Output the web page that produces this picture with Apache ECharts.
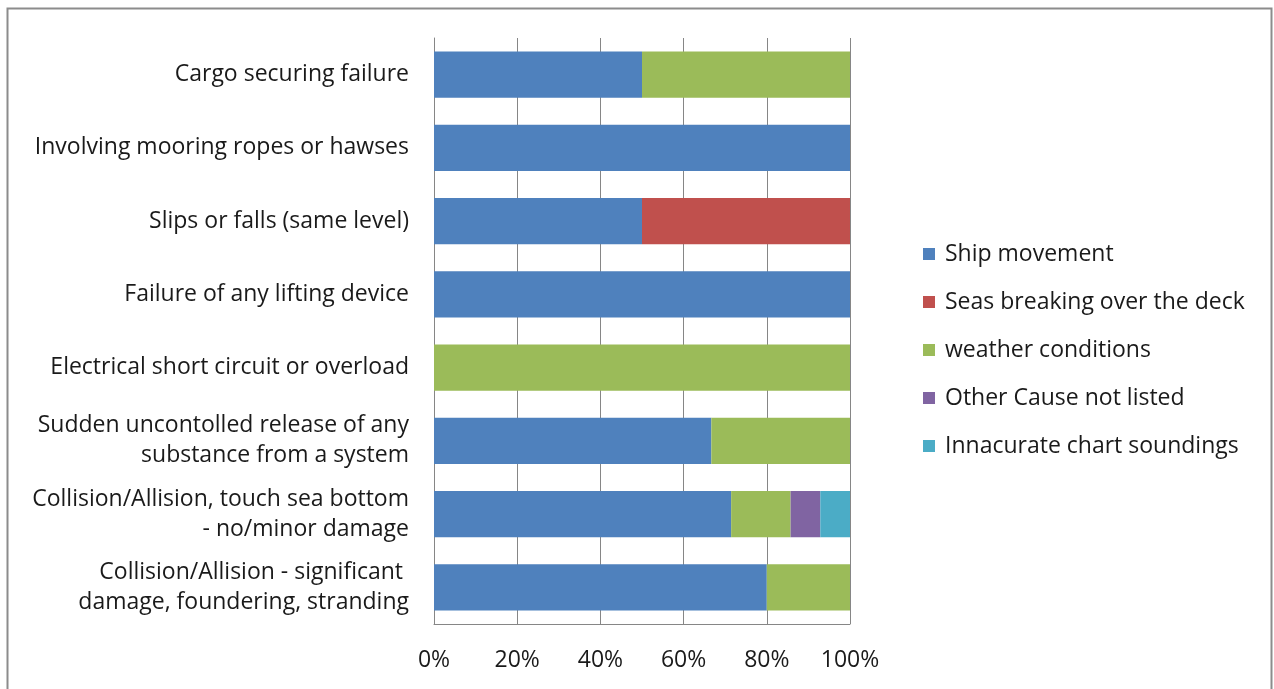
<!DOCTYPE html>
<html><head><meta charset="utf-8">
<script src="https://cdn.jsdelivr.net/npm/echarts@6/dist/echarts.min.js"></script>
<style>html,body{margin:0;padding:0;background:#fff}#c{width:1274px;height:689px}</style>
</head><body><div id="c"></div>
<script>
const categories = [
  "Cargo securing failure",
  "Involving mooring ropes or hawses",
  "Slips or falls (same level)",
  "Failure of any lifting device",
  "Electrical short circuit or overload",
  "Sudden uncontolled release of any\nsubstance from a system",
  "Collision/Allision, touch sea bottom\n- no/minor damage",
  "Collision/Allision - significant \ndamage, foundering, stranding"
];
const seriesNames = ["Ship movement","Seas breaking over the deck","weather conditions","Other Cause not listed","Innacurate chart soundings"];
const shipMovement      = [50, 100, 50, 100, 0, 66.67, 71.43, 80];
const seasBreaking      = [0, 0, 50, 0, 0, 0, 0, 0];
const weatherConditions = [50, 0, 0, 0, 100, 33.33, 14.29, 20];
const otherCause        = [0, 0, 0, 0, 0, 0, 7.14, 0];
const innacurateChart   = [0, 0, 0, 0, 0, 0, 7.14, 0];
const xTicks = [0, 20, 40, 60, 80, 100];
const colors = ["#4F81BD","#C0504D","#9BBB59","#8064A2","#4BACC6"];
const allData = [shipMovement, seasBreaking, weatherConditions, otherCause, innacurateChart];

const chart = echarts.init(document.getElementById('c'));
const font = 'Open Sans';
chart.setOption({
  animation: false,
  color: colors,
  graphic: [{type:'rect', shape:{x:7.5,y:8.5,width:1264,height:700}, style:{fill:'none', stroke:'#8c8c8c', lineWidth:2}, silent:true}],
  grid: {left: 434, right: 1274-850, top: 38, bottom: 689-624},
  legend: {
    orient: 'vertical', left: 918, top: 237,
    itemWidth: 12, itemHeight: 12, itemGap: 24,
    icon: 'rect',
    textStyle: {fontFamily: font, fontSize: 23, color: '#1a1a1a', lineHeight: 24, padding:[0,0,0,5]},
    data: seriesNames
  },
  xAxis: {
    type: 'value', min: 0, max: 100, interval: 20,
    axisLine: {show: true, lineStyle: {color: '#868686'}},
    axisTick: {show: false},
    splitLine: {show: true, lineStyle: {color: '#868686', width: 1}},
    axisLabel: {fontFamily: font, fontSize: 23, color: '#1a1a1a', margin: 25, formatter: v => v + '%'}
  },
  yAxis: {
    type: 'category', inverse: true, data: categories,
    axisLine: {show: true, lineStyle: {color: '#868686'}},
    axisTick: {show: false},
    axisLabel: {fontFamily: font, fontSize: 23, color: '#1a1a1a', margin: 25, lineHeight: 30, align: 'right'}
  },
  series: seriesNames.map((n, i) => ({
    name: n, type: 'bar', stack: 'total', barWidth: '63%',
    data: allData[i],
    itemStyle: {color: colors[i]}
  }))
});
</script></body></html>
